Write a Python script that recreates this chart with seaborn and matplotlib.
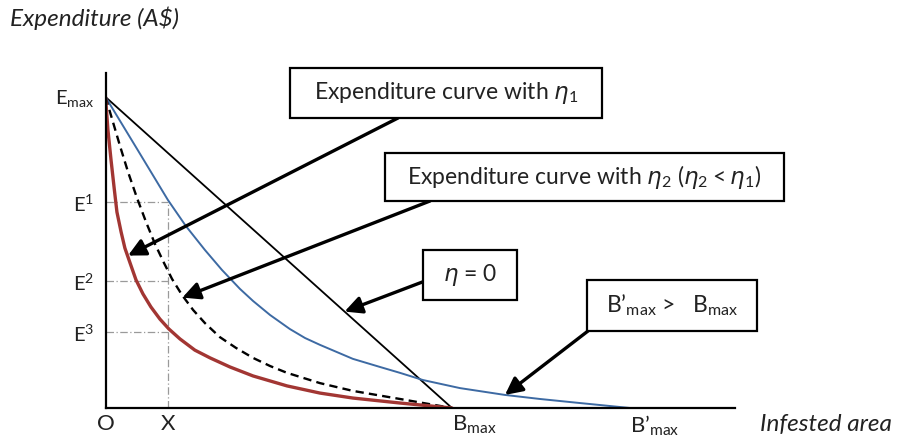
import numpy as np
import pandas as pd
import matplotlib
matplotlib.use('Agg')
import matplotlib.pyplot as plt
import matplotlib.patches as mpatches
import seaborn as sns

# Curve values (x: infested area with Bmax = 1, y: expenditure with Emax = 1)
red_x = [0, 0.007, 0.016, 0.025, 0.033, 0.045, 0.056, 0.071, 0.088, 0.108, 0.131, 0.157, 0.183,
         0.215, 0.258, 0.302, 0.359, 0.426, 0.524, 0.619, 0.714, 0.850, 1.0]
red_y = [1.0, 0.894, 0.797, 0.707, 0.630, 0.566, 0.514, 0.466, 0.412, 0.367, 0.325, 0.286, 0.254,
         0.222, 0.186, 0.161, 0.132, 0.103, 0.071, 0.048, 0.032, 0.016, 0.0]

dash_x = [0, 0.019, 0.042, 0.065, 0.091, 0.117, 0.143, 0.169, 0.192, 0.221, 0.253, 0.287, 0.330,
          0.377, 0.426, 0.475, 0.524, 0.619, 0.714, 0.850, 1.0]
dash_y = [1.0, 0.929, 0.842, 0.759, 0.675, 0.598, 0.527, 0.466, 0.415, 0.363, 0.315, 0.273, 0.228,
          0.193, 0.161, 0.135, 0.113, 0.080, 0.055, 0.029, 0.0]

blue_x = [0, 0.091, 0.180, 0.232, 0.287, 0.336, 0.388, 0.426, 0.475, 0.532, 0.576, 0.619, 0.714,
          0.792, 0.850, 0.916, 1.023, 1.153, 1.254, 1.369, 1.514]
blue_y = [1.0, 0.833, 0.669, 0.585, 0.508, 0.444, 0.383, 0.344, 0.299, 0.254, 0.225, 0.203, 0.158,
          0.132, 0.113, 0.090, 0.064, 0.042, 0.029, 0.016, 0.0]

line_x = [0, 1.0]
line_y = [1.0, 0.0]

# reference levels
X_pos = 0.18
E_levels = [0.662, 0.408, 0.244]
B_max = 1.0
B_max_prime = 1.514
E_max = 1.0

x_labels = ['O', 'X', r'B$_{\mathrm{max}}$', r'B’$_{\mathrm{max}}$']
y_labels = [r'E$^{3}$', r'E$^{2}$', r'E$^{1}$', r'E$_{\mathrm{max}}$']

sns.set_style('white')
plt.rcParams['font.family'] = ['Lato', 'DejaVu Sans']
plt.rcParams['mathtext.fontset'] = 'custom'
plt.rcParams['mathtext.rm'] = 'Lato'
plt.rcParams['mathtext.it'] = 'DejaVu Sans:italic'
plt.rcParams['mathtext.fallback'] = 'stixsans'

W, H = 899, 446
fig = plt.figure(figsize=(W / 100, H / 100), dpi=100)
ax = fig.add_axes([105.5 / W, 38 / H, 629.5 / W, 335 / H])

# dotted guide lines
guide = dict(color='#9a9a9a', lw=0.9, linestyle=(0, (6, 2, 1, 2)))
ax.plot([X_pos, X_pos], [0, E_levels[0]], **guide)
for e in E_levels:
    ax.plot([0, X_pos], [e, e], **guide)

sns.lineplot(x=line_x, y=line_y, ax=ax, color='black', lw=1.3, sort=False, estimator=None)
sns.lineplot(x=blue_x, y=blue_y, ax=ax, color='#3d6aa3', lw=1.4, sort=False, estimator=None)
sns.lineplot(x=dash_x, y=dash_y, ax=ax, color='black', lw=1.7, sort=False, estimator=None,
             linestyle=(0, (3.5, 2.2)))
sns.lineplot(x=red_x, y=red_y, ax=ax, color='#a23633', lw=2.4, sort=False, estimator=None)

ax.set_xlim(0, 1.817)
ax.set_ylim(0, 1.077)
for s in ['top', 'right']:
    ax.spines[s].set_visible(False)
for s in ['left', 'bottom']:
    ax.spines[s].set_linewidth(1.6)
    ax.spines[s].set_color('black')

ax.set_xticks([0, X_pos, B_max, B_max_prime])
ax.set_xticklabels(x_labels)
ax.set_yticks(E_levels[::-1] + [E_max])
ax.set_yticklabels(y_labels)
ax.tick_params(axis='x', length=0, pad=4, labelsize=16, colors='#222222')
ax.tick_params(axis='y', length=0, pad=8, labelsize=14.5, colors='#222222')
for i, lbl in enumerate(ax.get_xticklabels()):
    if i >= 2:
        lbl.set_ha('left')

fig.text(10 / W, 1 - 18 / H, 'Expenditure (A$)', fontsize=17.5, style='italic',
         ha='left', va='center', color='#222222')
fig.text(760 / W, 1 - 424 / H, 'Infested area', fontsize=17.5, style='italic',
         ha='left', va='center', color='#222222')


def box(x0, y0, x1, y1, text, size=16.5):
    rect = mpatches.Rectangle((x0 / W, 1 - y1 / H), (x1 - x0) / W, (y1 - y0) / H,
                              transform=fig.transFigure, fill=True, facecolor='white',
                              edgecolor='black', lw=1.6, zorder=5)
    fig.add_artist(rect)
    fig.text((x0 + x1) / 2 / W, 1 - (y0 + y1) / 2 / H, text, fontsize=size,
             ha='center', va='center', color='#222222', zorder=6)


def arrow(tail, tip):
    ax.annotate('', xy=tip, xycoords='data', xytext=(tail[0], H - tail[1]),
                textcoords='figure pixels',
                arrowprops=dict(arrowstyle='-|>', color='black', lw=2.4,
                                mutation_scale=26, shrinkA=0, shrinkB=0),
                annotation_clip=False, zorder=4)


box(290, 68, 602, 118, r'Expenditure curve with $\eta_1$')
box(385, 153, 784, 201, r'Expenditure curve with $\eta_2$ ($\eta_2 < \eta_1$)')
box(423, 250, 517, 300, r'$\eta$ = 0')
box(587, 280, 757, 331, r'B’$_{\mathrm{max}}$ >   B$_{\mathrm{max}}$')

arrow((398, 118), (0.065, 0.49))
arrow((430, 201), (0.222, 0.355))
arrow((425, 281), (0.69, 0.31))
arrow((588, 331), (blue_x[17], blue_y[17]))

fig.savefig('out.png', dpi=100)
